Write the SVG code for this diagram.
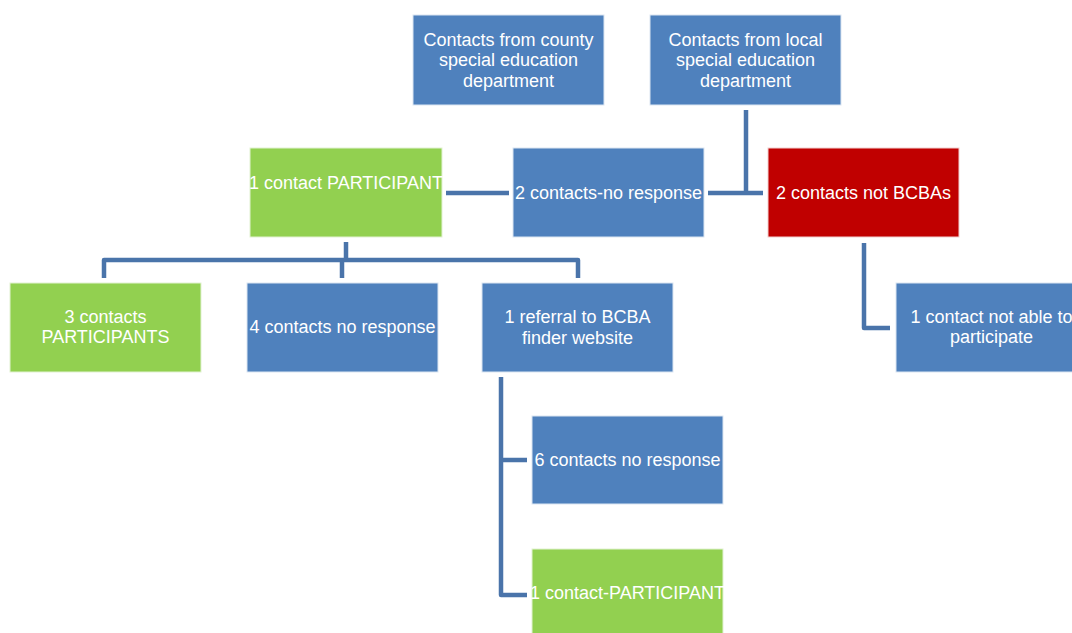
<svg xmlns="http://www.w3.org/2000/svg" width="1072" height="633" viewBox="0 0 1072 633">
<style>
.b{fill:#4F81BD;stroke:#DCE6F2;stroke-width:1}
.g{fill:#92D050;stroke:#E2F2D2;stroke-width:1}
.r{fill:#C00000;stroke:#F2D0D0;stroke-width:1}
text{font-family:"Liberation Sans",Arial,sans-serif;font-size:18px;fill:#FFFFFF;text-anchor:middle}
.c{fill:none;stroke:#4A74AA;stroke-width:4.5;stroke-linejoin:round}
</style>
<rect width="1072" height="633" fill="#FFFFFF"/>
<g id="connectors">
<path class="c" d="M746 110V193M708 193H763"/>
<path class="c" d="M446 193H509"/>
<path class="c" d="M346 242V260M104 278V260H578V278M342 260V278"/>
<path class="c" d="M864 243V328H890"/>
<path class="c" d="M501 377V595H527M501 460H527"/>
</g>
<g id="county"><rect class="b" x="413" y="15" width="191" height="90"/><text x="508.5" y="46">Contacts from county</text><text x="508.5" y="66">special education</text><text x="508.5" y="87">department</text></g>
<g id="local"><rect class="b" x="650" y="15" width="191" height="90"/><text x="745.5" y="46">Contacts from local</text><text x="745.5" y="66">special education</text><text x="745.5" y="87">department</text></g>
<g id="participant1"><rect class="g" x="250" y="148" width="192" height="89"/><text x="346" y="189">1 contact PARTICIPANT</text></g>
<g id="noresponse2"><rect class="b" x="513" y="148" width="191" height="89"/><text x="608.5" y="199">2 contacts-no response</text></g>
<g id="notbcba"><rect class="r" x="768" y="148" width="191" height="89"/><text x="863.5" y="199">2 contacts not BCBAs</text></g>
<g id="participants3"><rect class="g" x="10" y="283" width="191" height="89"/><text x="105.5" y="323">3 contacts</text><text x="105.5" y="343">PARTICIPANTS</text></g>
<g id="noresponse4"><rect class="b" x="247" y="283" width="191" height="89"/><text x="342.5" y="333">4 contacts no response</text></g>
<g id="referral"><rect class="b" x="482" y="283" width="191" height="89"/><text x="577.5" y="323">1 referral to BCBA</text><text x="577.5" y="344">finder website</text></g>
<g id="notable"><rect class="b" x="896" y="283" width="191" height="89"/><text x="991.5" y="323">1 contact not able to</text><text x="991.5" y="343">participate</text></g>
<g id="noresponse6"><rect class="b" x="532" y="416" width="191" height="88"/><text x="627.5" y="466">6 contacts no response</text></g>
<g id="participantlast"><rect class="g" x="532" y="549" width="191" height="90"/><text x="627.5" y="599">1 contact-PARTICIPANT</text></g>
</svg>
